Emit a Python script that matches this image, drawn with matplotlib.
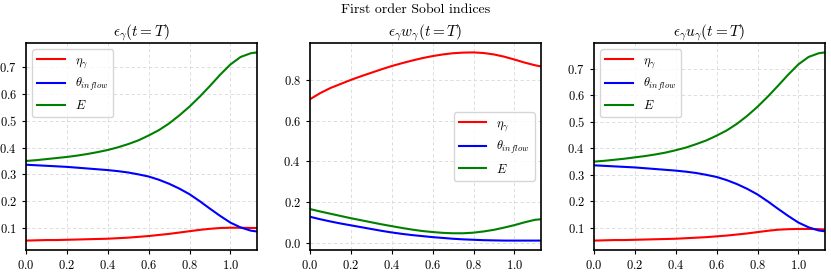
import numpy as np
import matplotlib
matplotlib.use("Agg")
import matplotlib.pyplot as plt

plt.rcParams['font.family'] = 'serif'
plt.rcParams['font.serif'] = ['cmr10']
plt.rcParams['mathtext.fontset'] = 'cm'
plt.rcParams['axes.formatter.use_mathtext'] = True
plt.rcParams['axes.unicode_minus'] = False

t = [0.0, 0.05, 0.1, 0.15, 0.2, 0.25, 0.3, 0.35, 0.4, 0.45, 0.5, 0.55,
     0.6, 0.65, 0.7, 0.75, 0.8, 0.85, 0.9, 0.95, 1.0, 1.05, 1.1, 1.13]

# eps_gamma
eta_1 = [0.053, 0.054, 0.055, 0.055, 0.056, 0.057, 0.058, 0.059, 0.060, 0.062, 0.064, 0.067,
         0.070, 0.074, 0.078, 0.083, 0.088, 0.093, 0.097, 0.100, 0.101, 0.101, 0.100, 0.100]
theta_1 = [0.336, 0.334, 0.332, 0.330, 0.328, 0.325, 0.322, 0.319, 0.316, 0.312, 0.307, 0.300,
           0.292, 0.280, 0.265, 0.247, 0.226, 0.200, 0.172, 0.145, 0.120, 0.102, 0.090, 0.087]
E_1 = [0.350, 0.353, 0.357, 0.361, 0.365, 0.370, 0.376, 0.383, 0.391, 0.401, 0.413, 0.427,
       0.445, 0.465, 0.490, 0.520, 0.553, 0.590, 0.630, 0.672, 0.710, 0.738, 0.752, 0.755]

# eps_gamma w_gamma
eta_2 = [0.705, 0.735, 0.760, 0.780, 0.800, 0.818, 0.835, 0.852, 0.868, 0.882, 0.895, 0.907,
         0.917, 0.925, 0.931, 0.934, 0.935, 0.932, 0.925, 0.914, 0.900, 0.885, 0.872, 0.866]
theta_2 = [0.127, 0.115, 0.104, 0.094, 0.085, 0.076, 0.067, 0.058, 0.050, 0.043, 0.037, 0.032,
           0.027, 0.023, 0.019, 0.016, 0.014, 0.012, 0.011, 0.010, 0.010, 0.010, 0.010, 0.010]
E_2 = [0.165, 0.153, 0.142, 0.131, 0.120, 0.110, 0.100, 0.090, 0.081, 0.072, 0.064, 0.057,
       0.052, 0.048, 0.046, 0.046, 0.049, 0.055, 0.063, 0.074, 0.086, 0.100, 0.112, 0.115]

# eps_gamma u_gamma
eta_3 = [0.052, 0.053, 0.054, 0.054, 0.055, 0.056, 0.057, 0.058, 0.059, 0.061, 0.063, 0.065,
         0.068, 0.071, 0.075, 0.079, 0.084, 0.089, 0.093, 0.095, 0.096, 0.096, 0.095, 0.094]
theta_3 = [0.336, 0.334, 0.332, 0.330, 0.328, 0.325, 0.322, 0.319, 0.316, 0.312, 0.307, 0.300,
           0.292, 0.280, 0.265, 0.247, 0.226, 0.200, 0.172, 0.145, 0.120, 0.102, 0.090, 0.087]
E_3 = [0.350, 0.353, 0.357, 0.361, 0.366, 0.371, 0.377, 0.384, 0.393, 0.403, 0.416, 0.430,
       0.448, 0.468, 0.493, 0.523, 0.557, 0.595, 0.636, 0.678, 0.717, 0.745, 0.759, 0.762]

titles = [r'$\epsilon_\gamma(t=T)$', r'$\epsilon_\gamma w_\gamma(t=T)$', r'$\epsilon_\gamma u_\gamma(t=T)$']
labels = [r'$\eta_\gamma$', r'$\theta_{inflow}$', r'$E$']
data = [(eta_1, theta_1, E_1), (eta_2, theta_2, E_2), (eta_3, theta_3, E_3)]
legend_loc = ['upper left', 'center right', 'upper left']

fig = plt.figure(figsize=(8.31, 2.73), dpi=100)
lefts = [26, 310, 594]
for i in range(3):
    ax = fig.add_axes([lefts[i] / 831, 23 / 273, 231 / 831, 207 / 273])
    for y, c, lab in zip(data[i], ['red', 'blue', 'green'], labels):
        ax.plot(t, y, color=c, label=lab, lw=1.5)
    ax.set_xlim(0, 1.13)
    ax.grid(True, ls=(0, (4, 3)), color='#d8d8d8', lw=0.6)
    ax.set_title(titles[i], fontsize=11, pad=3)
    ax.tick_params(labelsize=9, length=3, width=0.8)
    for s in ax.spines.values():
        s.set_linewidth(1.2)
    ax.legend(loc=legend_loc[i], fontsize=9, handlelength=2.2)

fig.suptitle('First order Sobol indices', fontsize=10, y=0.985)
fig.savefig('out.png', dpi=100)
